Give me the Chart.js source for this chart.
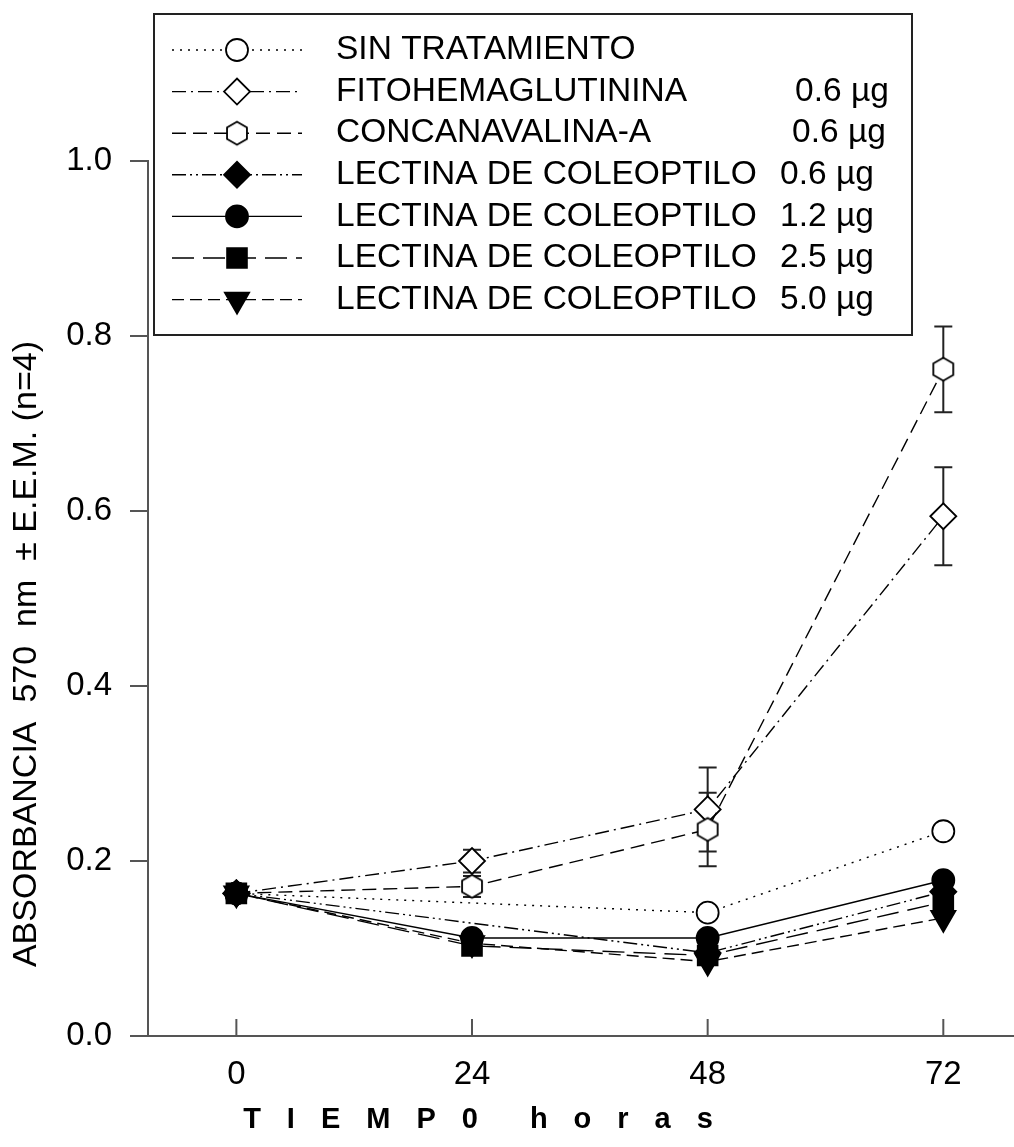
<!DOCTYPE html>
<html>
<head>
<meta charset="utf-8">
<script src="https://cdn.jsdelivr.net/npm/chart.js@4.4.1/dist/chart.umd.min.js"></script>
<style>
    html, body { margin: 0; padding: 0; background: #fff; }
    #wrap { position: relative; width: 1014px; height: 1147px; }
</style>
</head>
<body>
<div id="wrap"><canvas id="absChart" width="1014" height="1147"></canvas></div>
<script>
const horas = [0, 24, 48, 72];
const xTicks = [0, 24, 48, 72];
const yTicks = [0, 0.2, 0.4, 0.6, 0.8, 1.0];

const sinTratamiento = [0.163, null, 0.141, 0.234];
const fitohemaglutinina = [0.163, 0.200, 0.259, 0.594];
const fitoErr = [0, 0.013, 0.048, 0.056];
const concanavalina = [0.163, 0.171, 0.236, 0.762];
const conaErr = [0, 0.012, 0.042, 0.049];
const lectina06 = [0.163, null, 0.095, 0.165];
const lectina12 = [0.163, 0.112, 0.112, 0.178];
const lectina25 = [0.163, 0.103, 0.092, 0.153];
const lectina50 = [0.163, 0.106, 0.085, 0.135];

const seriesNames = ['SIN TRATAMIENTO', 'FITOHEMAGLUTININA', 'CONCANAVALINA-A',
    'LECTINA DE COLEOPTILO', 'LECTINA DE COLEOPTILO', 'LECTINA DE COLEOPTILO', 'LECTINA DE COLEOPTILO'];
const doses = ['', '0.6 µg', '0.6 µg', '0.6 µg', '1.2 µg', '2.5 µg', '5.0 µg'];

const FONT = '"Liberation Sans", Arial, sans-serif';

function hexMarker() {
    const c = document.createElement('canvas');
    c.width = 28; c.height = 30;
    const g = c.getContext('2d');
    const R = 11.5;
    g.beginPath();
    for (let i = 0; i < 6; i++) {
        const a = Math.PI / 2 + i * Math.PI / 3;
        const px = 14 + R * Math.cos(a), py = 15 - R * Math.sin(a);
        if (i) g.lineTo(px, py); else g.moveTo(px, py);
    }
    g.closePath();
    g.fillStyle = '#fff'; g.fill();
    g.lineWidth = 1.8; g.strokeStyle = '#000'; g.stroke();
    return c;
}

function points(vals) {
    return horas.map((h, i) => ({ x: h, y: vals[i] })).filter(p => p.y !== null);
}

function series(idx, vals, dash, style, radius, fill, rotation) {
    return {
        label: seriesNames[idx] + ' ' + doses[idx],
        data: points(vals),
        borderColor: '#000',
        borderWidth: 1.4,
        borderDash: dash,
        pointStyle: style,
        pointRadius: radius,
        pointHoverRadius: radius,
        pointRotation: rotation || 0,
        pointBackgroundColor: fill,
        pointBorderColor: '#000',
        pointBorderWidth: 1.8,
        tension: 0,
        spanGaps: true,
        clip: false,
        order: 10 - idx
    };
}

const datasets = [
    series(0, sinTratamiento, [2, 6], 'circle', 11, '#fff'),
    series(1, fitohemaglutinina, [14, 5, 2, 5], 'rectRot', 13, '#fff'),
    series(2, concanavalina, [14, 7], hexMarker(), 12, '#fff'),
    series(3, lectina06, [14, 4, 2, 4, 2, 4], 'rectRot', 13, '#000'),
    series(4, lectina12, [], 'circle', 11, '#000'),
    series(5, lectina25, [22, 9], 'rect', 14, '#000'),
    series(6, lectina50, [12, 6], 'triangle', 14, '#000', 180)
];
datasets[1].errors = fitoErr;
datasets[2].errors = conaErr;

const errorBars = {
    id: 'errorBars',
    beforeDatasetsDraw(chart) {
        const ctx = chart.ctx;
        const xs = chart.scales.x, ys = chart.scales.y;
        ctx.save();
        ctx.strokeStyle = '#222';
        ctx.lineWidth = 2;
        chart.data.datasets.forEach(ds => {
            if (!ds.errors) return;
            ds.data.forEach(p => {
                const e = ds.errors[horas.indexOf(p.x)];
                if (!e) return;
                const x = xs.getPixelForValue(p.x);
                const top = ys.getPixelForValue(p.y + e);
                const bot = ys.getPixelForValue(p.y - e);
                ctx.beginPath();
                ctx.moveTo(x, top); ctx.lineTo(x, bot);
                ctx.moveTo(x - 9, top); ctx.lineTo(x + 9, top);
                ctx.moveTo(x - 9, bot); ctx.lineTo(x + 9, bot);
                ctx.stroke();
            });
        });
        ctx.restore();
    }
};

const decor = {
    id: 'decor',
    afterDraw(chart) {
        const ctx = chart.ctx;
        const xs = chart.scales.x;
        const area = chart.chartArea;
        ctx.save();

        // inward ticks on the x axis
        ctx.strokeStyle = '#555';
        ctx.lineWidth = 2;
        xTicks.forEach(v => {
            const x = xs.getPixelForValue(v);
            ctx.beginPath();
            ctx.moveTo(x, area.bottom);
            ctx.lineTo(x, area.bottom - 17);
            ctx.stroke();
        });

        // y title
        ctx.fillStyle = '#000';
        ctx.save();
        ctx.translate(27, 654);
        ctx.rotate(-Math.PI / 2);
        ctx.font = '34px ' + FONT;
        ctx.textAlign = 'center';
        ctx.textBaseline = 'middle';
        ctx.fillText('ABSORBANCIA  570  nm  ± E.E.M. (n=4)', 0, 0);
        ctx.restore();

        // x title, spaced letters
        ctx.font = 'bold 29px ' + FONT;
        ctx.textBaseline = 'alphabetic';
        ctx.textAlign = 'left';
        const words = ['TIEMP0', 'horas'];
        const gap = 26, wordGap = 52;
        let total = 0;
        words.forEach((w, wi) => {
            [...w].forEach((ch, ci) => {
                total += ctx.measureText(ch).width + (ci < w.length - 1 ? gap : 0);
            });
            if (wi < words.length - 1) total += wordGap;
        });
        let cx = 478 - total / 2;
        words.forEach(w => {
            [...w].forEach(ch => {
                ctx.fillText(ch, cx, 1128);
                cx += ctx.measureText(ch).width + gap;
            });
            cx += wordGap - gap;
        });

        // legend
        const bx = 154, by = 14, bw = 758, bh = 321;
        ctx.fillStyle = '#fff';
        ctx.fillRect(bx, by, bw, bh);
        ctx.strokeStyle = '#222';
        ctx.lineWidth = 2;
        ctx.strokeRect(bx, by, bw, bh);
        const doseX = [0, 795, 792, 780, 780, 780, 780];
        chart.data.datasets.forEach((ds, i) => {
            const y = 50 + i * 41.6;
            ctx.strokeStyle = '#000';
            ctx.lineWidth = 1.4;
            ctx.setLineDash(ds.borderDash);
            ctx.beginPath();
            ctx.moveTo(172, y); ctx.lineTo(302, y);
            ctx.stroke();
            ctx.setLineDash([]);
            ctx.fillStyle = ds.pointBackgroundColor;
            ctx.lineWidth = ds.pointBorderWidth;
            Chart.helpers.drawPoint(ctx, {
                pointStyle: ds.pointStyle,
                rotation: ds.pointRotation,
                radius: ds.pointRadius,
                borderWidth: ds.pointBorderWidth
            }, 237, y);
            ctx.fillStyle = '#000';
            ctx.font = '33.5px ' + FONT;
            ctx.textBaseline = 'middle';
            ctx.fillText(seriesNames[i], 336, y);
            if (doses[i]) ctx.fillText(doses[i], doseX[i], y);
        });
        ctx.restore();
    }
};

const ctx = document.getElementById('absChart').getContext('2d');
const absChart = new Chart(ctx, {
    type: 'line',
    data: { datasets: datasets },
    options: {
        responsive: false,
        animation: false,
        devicePixelRatio: 1,
        layout: { autoPadding: false, padding: { top: 161, left: 0, right: 0, bottom: 0 } },
        plugins: {
            legend: { display: false },
            tooltip: { enabled: false }
        },
        scales: {
            x: {
                type: 'linear',
                min: -9,
                max: 79.2,
                afterBuildTicks: scale => { scale.ticks = xTicks.map(v => ({ value: v })); },
                afterFit: scale => {
                    scale.height = 111;
                    scale.paddingLeft = 0;
                    scale.paddingRight = 0;
                },
                grid: { drawOnChartArea: false, drawTicks: false },
                border: { color: '#555', width: 2 },
                ticks: {
                    color: '#000',
                    padding: 19,
                    font: { family: FONT, size: 33 },
                    callback: v => String(v)
                }
            },
            y: {
                min: 0,
                max: 1.0,
                afterBuildTicks: scale => { scale.ticks = yTicks.map(v => ({ value: v })); },
                afterFit: scale => {
                    scale.width = 148;
                    scale.paddingTop = 0;
                    scale.paddingBottom = 0;
                },
                grid: { drawOnChartArea: false, drawTicks: true, tickLength: 18, color: '#555', lineWidth: 2 },
                border: { color: '#555', width: 2 },
                ticks: {
                    color: '#000',
                    padding: 18,
                    font: { family: FONT, size: 33 },
                    callback: v => v.toFixed(1)
                }
            }
        }
    },
    plugins: [errorBars, decor]
});
</script>
</body>
</html>
